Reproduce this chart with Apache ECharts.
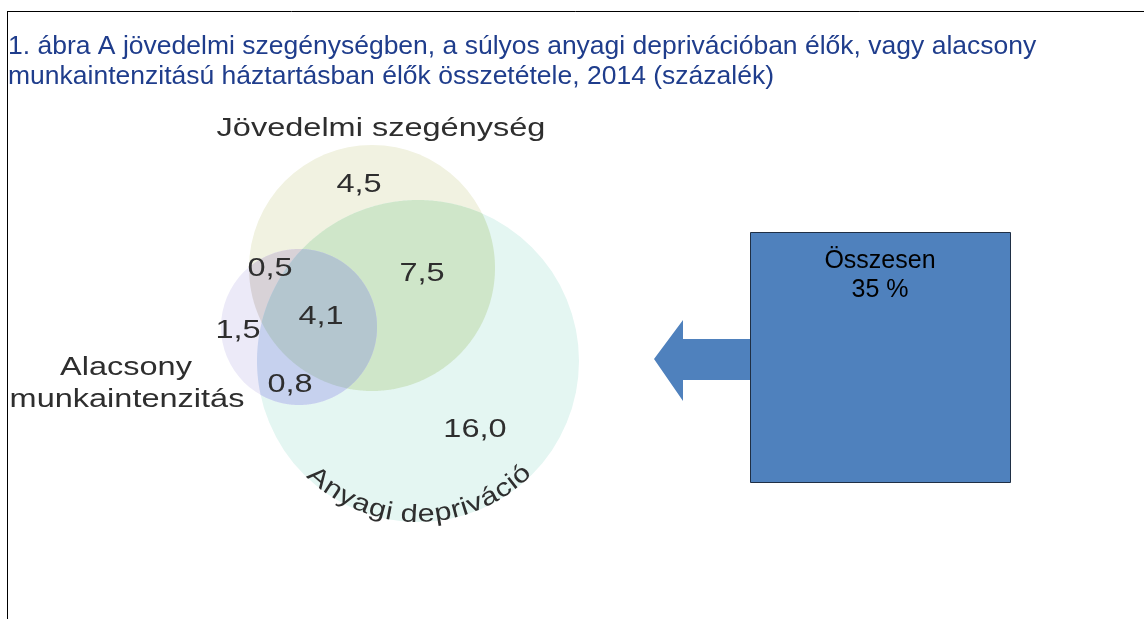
<!DOCTYPE html>
<html>
<head>
<meta charset="utf-8">
<style>
html, body { margin: 0; padding: 0; background: #fff; }
#chart { width: 1144px; height: 619px; }
</style>
<script src="https://cdn.jsdelivr.net/npm/echarts@6/dist/echarts.min.js"></script>
</head>
<body>
<div id="chart"></div>
<script>
// adatok
var titleLines = [
    '1. ábra A jövedelmi szegénységben, a súlyos anyagi deprivációban élők, vagy alacsony',
    'munkaintenzitású háztartásban élők összetétele, 2014 (százalék)'
];
var setNames = ['Jövedelmi szegénység', 'Anyagi depriváció', 'Alacsony munkaintenzitás'];
var regionNames = ['csak jövedelmi', 'jövedelmi + anyagi', 'jövedelmi + alacsony', 'mindhárom',
    'csak alacsony', 'alacsony + anyagi', 'csak anyagi'];
var regionValues = [4.5, 7.5, 0.5, 4.1, 1.5, 0.8, 16.0];
var totalLabel = 'Összesen';

// elrendezés (pixelben, rejtett tengelyeken)
var circles = [[372, 268, 123], [418, 361, 161], [299, 327, 78]];
var circleColors = ['#f1f2e1', '#e4f6f2', '#eceaf8'];
// metszetek: J∩A, J∩L, A∩L, J∩A∩L
var overlapSets = [[0, 1], [0, 2], [1, 2], [0, 1, 2]];
var overlapColors = ['#cfe6c9', '#d8d2d7', '#c6d1ee', '#b4c6cf'];
var regionPos = [[359, 185], [422, 274], [270, 269], [321, 317], [238, 331], [290, 385], [475, 430]];

var FONT = '"Liberation Sans", Arial, sans-serif';
var STRETCH = 1.3;
var textColor = '#2e2e2e';
var blue = '#4f81bd';

function fmt(v) {
    return v.toFixed(1).replace('.', ',');
}

var total = 0;
for (var i = 0; i < regionValues.length; i++) {
    total += regionValues[i];
}

// körök metszete (konvex) -> sokszög
function overlapPolygon(idxs) {
    var pts = [];
    var N = 720;
    for (var a = 0; a < idxs.length; a++) {
        var c = circles[idxs[a]];
        for (var k = 0; k < N; k++) {
            var th = k / N * Math.PI * 2;
            var x = c[0] + c[2] * Math.cos(th);
            var y = c[1] + c[2] * Math.sin(th);
            var ok = true;
            for (var b = 0; b < idxs.length; b++) {
                if (b === a) continue;
                var o = circles[idxs[b]];
                if (Math.hypot(x - o[0], y - o[1]) > o[2] + 1e-6) { ok = false; break; }
            }
            if (ok) pts.push([x, y]);
        }
    }
    var mx = 0, my = 0;
    pts.forEach(function (p) { mx += p[0]; my += p[1]; });
    mx /= pts.length; my /= pts.length;
    pts.sort(function (p, q) {
        return Math.atan2(p[1] - my, p[0] - mx) - Math.atan2(q[1] - my, q[0] - mx);
    });
    return pts;
}

// íves felirat (Anyagi depriváció) betűnként
var ctx = document.createElement('canvas').getContext('2d');
ctx.font = '25px ' + FONT;
function curvedText(str, cx, cy, r, midDeg, stretch) {
    var ws = [];
    var w = 0;
    for (var i = 0; i < str.length; i++) {
        ws.push(ctx.measureText(str[i]).width * stretch);
        w += ws[i];
    }
    var els = [];
    var acc = 0;
    for (var i = 0; i < str.length; i++) {
        var c = acc + ws[i] / 2;
        acc += ws[i];
        var th = midDeg * Math.PI / 180 + (w / 2 - c) / r;
        els.push({
            type: 'text',
            z: 10,
            x: cx + r * Math.cos(th),
            y: cy + r * Math.sin(th),
            rotation: Math.PI / 2 - th,
            scaleX: stretch,
            style: {
                text: str[i],
                font: '25px ' + FONT,
                fill: textColor,
                align: 'center',
                verticalAlign: 'middle'
            }
        });
    }
    return els;
}

var graphics = [
    // keret
    { type: 'line', shape: { x1: 7.5, y1: 11.5, x2: 1144, y2: 11.5 }, style: { stroke: '#000', lineWidth: 1 } },
    { type: 'line', shape: { x1: 7.5, y1: 11, x2: 7.5, y2: 619 }, style: { stroke: '#000', lineWidth: 1 } },
    // cím
    { type: 'text', x: 8, y: 47, scaleX: 1.06, style: { text: titleLines[0], font: '25px ' + FONT, fill: '#1f3d8c', verticalAlign: 'middle' } },
    { type: 'text', x: 8, y: 77, scaleX: 1.06, style: { text: titleLines[1], font: '25px ' + FONT, fill: '#1f3d8c', verticalAlign: 'middle' } },
    // halmaz nevek
    { type: 'text', z: 10, x: 381, y: 129, scaleX: STRETCH, style: { text: setNames[0], font: '25px ' + FONT, fill: textColor, align: 'center', verticalAlign: 'middle' } },
    { type: 'text', z: 10, x: 126, y: 368, scaleX: STRETCH, style: { text: 'Alacsony', font: '25px ' + FONT, fill: textColor, align: 'center', verticalAlign: 'middle' } },
    { type: 'text', z: 10, x: 127, y: 400, scaleX: STRETCH, style: { text: 'munkaintenzitás', font: '25px ' + FONT, fill: textColor, align: 'center', verticalAlign: 'middle' } },
    // nyíl és doboz
    { type: 'polygon', shape: { points: [[654, 359], [683, 320], [683, 339], [751, 339], [751, 380], [683, 380], [683, 401]] }, style: { fill: blue } },
    { type: 'rect', shape: { x: 750.5, y: 232.5, width: 260, height: 250 }, style: { fill: blue, stroke: '#1f2f45', lineWidth: 1 } },
    { type: 'text', x: 880, y: 261, style: { text: totalLabel, font: '25px ' + FONT, fill: '#000', align: 'center', verticalAlign: 'middle' } },
    { type: 'text', x: 880, y: 290, style: { text: Math.round(total) + ' %', font: '25px ' + FONT, fill: '#000', align: 'center', verticalAlign: 'middle' } }
].concat(curvedText(setNames[1], 418, 361, 154, 89.5, 1.22));

var myChart = echarts.init(document.getElementById('chart'));
var option = {
    animation: false,
    grid: { left: 0, right: 0, top: 0, bottom: 0 },
    xAxis: { type: 'value', min: 0, max: 1144, show: false },
    yAxis: { type: 'value', min: 0, max: 619, inverse: true, show: false },
    graphic: { elements: graphics },
    series: [
        {
            // halmazok körei
            type: 'custom',
            silent: true,
            z: 2,
            data: circles.map(function (c, i) {
                return { name: setNames[i], value: c };
            }),
            renderItem: function (params, api) {
                var p = api.coord([api.value(0), api.value(1)]);
                var r = api.size([api.value(2), 0])[0];
                return {
                    type: 'circle',
                    shape: { cx: p[0], cy: p[1], r: r },
                    style: { fill: circleColors[params.dataIndex] }
                };
            }
        },
        {
            // metszetek
            type: 'custom',
            silent: true,
            z: 3,
            data: overlapSets.map(function (s, i) {
                return { name: s.join('-'), value: [i] };
            }),
            renderItem: function (params, api) {
                var poly = overlapPolygon(overlapSets[params.dataIndex]).map(function (p) {
                    return api.coord(p);
                });
                return {
                    type: 'polygon',
                    shape: { points: poly },
                    style: { fill: overlapColors[params.dataIndex] }
                };
            }
        },
        {
            // régiók értékei
            type: 'custom',
            silent: true,
            z: 5,
            data: regionValues.map(function (v, i) {
                return { name: regionNames[i], value: [regionPos[i][0], regionPos[i][1], v] };
            }),
            renderItem: function (params, api) {
                var p = api.coord([api.value(0), api.value(1)]);
                return {
                    type: 'text',
                    x: p[0],
                    y: p[1],
                    scaleX: STRETCH,
                    style: {
                        text: fmt(api.value(2)),
                        font: '25px ' + FONT,
                        fill: textColor,
                        align: 'center',
                        verticalAlign: 'middle'
                    }
                };
            }
        }
    ]
};
myChart.setOption(option);
</script>
</body>
</html>
